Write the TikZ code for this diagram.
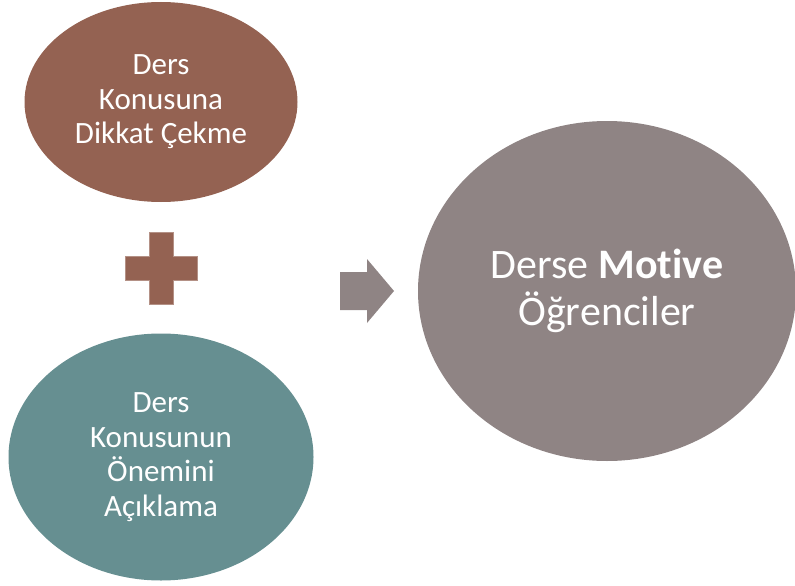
\documentclass[tikz,border=0pt]{standalone}
\usepackage{fontspec}
\setmainfont[Ligatures={NoCommon,NoRare,NoContextual}]{Carlito}
\usetikzlibrary{shapes.geometric}

\definecolor{brownish}{RGB}{148,98,82}
\definecolor{tealish}{RGB}{102,143,145}
\definecolor{greyish}{RGB}{143,132,132}

\begin{document}
\begin{tikzpicture}[
  x=1pt,y=-1pt,
  every node/.style={align=center},
  bubble/.style={ellipse,inner sep=0pt,text=white},
  small/.style={font=\fontsize{31}{34.5}\selectfont},
  big/.style={font=\fontsize{42}{47}\selectfont}]

  \useasboundingbox (0,0) rectangle (795,586);

  % Position the bubbles at their centres
  \node[bubble,small,fill=brownish,minimum width=273pt,minimum height=200pt] (Dikkat) at (161,102)
    {Ders\\ Konusuna\\ Dikkat Çekme};
  \node[bubble,small,fill=tealish,minimum width=305pt,minimum height=247pt] (Onem) at (161,457)
    {Ders\\ Konusunun\\ Önemini\\ Açıklama};
  \node[bubble,big,fill=greyish,minimum width=378pt,minimum height=340pt] (Motive) at (607,291)
    {Derse \textbf{Motive}\\ Öğrenciler};

  % The plus sign and the block arrow
  \filldraw[brownish,draw=brownish!70!white,line width=0.6pt]
    (149,232) -- (173,232) -- (173,256) -- (197,256) -- (197,280) -- (173,280)
    -- (173,304) -- (149,304) -- (149,280) -- (125,280) -- (125,256) -- (149,256) -- cycle;
  \fill[greyish] (340,272) -- (367,272) -- (367,259) -- (394,291) -- (367,323)
    -- (367,310) -- (340,310) -- cycle;
\end{tikzpicture}
\end{document}
